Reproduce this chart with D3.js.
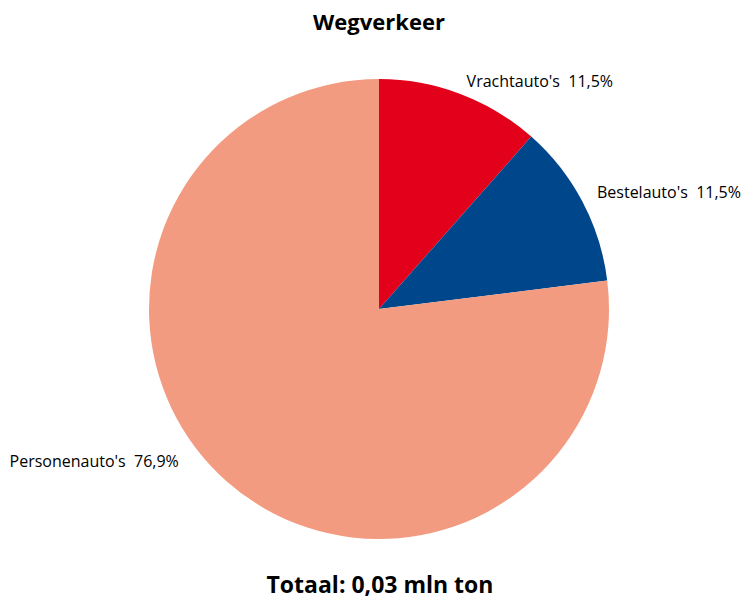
<!DOCTYPE html>
<html><head><meta charset="utf-8">
<script src="https://cdn.jsdelivr.net/npm/d3@7/dist/d3.min.js"></script>
<style>body{margin:0;background:#fff;} svg{display:block;}</style>
</head><body>
<svg id="chart" width="741" height="600"></svg>
<script>
const categories = ["Vrachtauto's", "Bestelauto's", "Personenauto's"];
const values = [11.5, 11.5, 76.9];
const valueLabels = ["11,5%", "11,5%", "76,9%"];
const title = "Wegverkeer";
const totalText = "Totaal: 0,03 mln ton";

const colors = ["#e2001a", "#00468b", "#f29b80"];
const font = "'Open Sans', 'Noto Sans', sans-serif";
const svg = d3.select("#chart");
const cx = 379, cy = 309, R = 230;

svg.append("text").attr("x", 379).attr("y", 30).attr("text-anchor", "middle")
  .attr("font-family", font).attr("font-weight", "bold").attr("font-size", 22).text(title);
svg.append("text").attr("x", 380).attr("y", 593).attr("text-anchor", "middle")
  .attr("font-family", font).attr("font-weight", "bold").attr("font-size", 23).text(totalText);

const pie = d3.pie().sort(null).value(d => d);
const arcs = pie(values);
const arc = d3.arc().innerRadius(0).outerRadius(R);
const g = svg.append("g").attr("transform", `translate(${cx},${cy})`);
g.selectAll("path").data(arcs).join("path")
  .attr("d", arc).attr("fill", (d, i) => colors[i]);

// label placement
const labelArc = d3.arc().innerRadius(242).outerRadius(242);
const nudge = [[2, 4], [4, 2], [-40, -23]];
g.selectAll("text.lbl").data(arcs).join("text").attr("class", "lbl")
  .attr("font-family", font).attr("font-size", 16).attr("fill", "#000")
  .attr("text-anchor", d => ((d.startAngle + d.endAngle) / 2 < Math.PI ? "start" : "end"))
  .attr("x", (d, i) => labelArc.centroid(d)[0] + nudge[i][0])
  .attr("y", (d, i) => labelArc.centroid(d)[1] + nudge[i][1])
  .attr("xml:space", "preserve")
  .text((d, i) => categories[i] + "  " + valueLabels[i]);
</script>
</body></html>
